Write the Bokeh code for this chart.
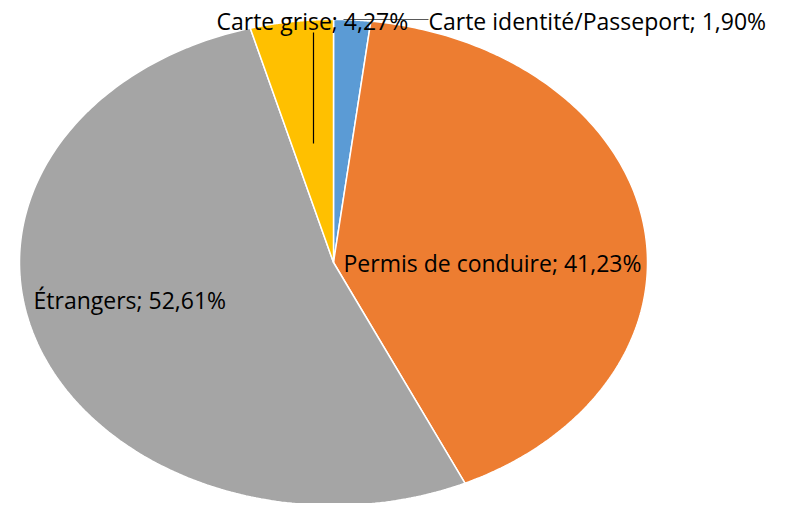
import numpy as np
from bokeh.plotting import figure
from bokeh.models import Range1d, ColumnDataSource
from bokeh.core.properties import value
from bokeh.embed import file_html
from bokeh.resources import INLINE

categories = ["Carte identité/Passeport", "Permis de conduire", "Étrangers", "Carte grise"]
percents = [1.90, 41.23, 52.61, 4.27]
colors = ["#5B9BD5", "#ED7D31", "#A5A5A5", "#FFC000"]

W, H = 779, 503
p = figure(width=W, height=H, output_backend="svg", toolbar_location=None,
           x_range=Range1d(0, W), y_range=Range1d(H, 0),
           min_border=0, outline_line_color=None)
p.axis.visible = False
p.grid.visible = False

cx, cy, rx, ry = 333, 262, 314, 243
fr = np.array(percents) / sum(percents)
ends = np.cumsum(fr)
starts = ends - fr
xs, ys = [], []
for s, e in zip(starts, ends):
    t = np.linspace(s, e, 200) * 2 * np.pi
    xs.append(np.concatenate([[cx], cx + rx * np.sin(t), [cx]]))
    ys.append(np.concatenate([[cy], cy - ry * np.cos(t), [cy]]))
p.patches(xs, ys, fill_color=colors, line_color="white", line_width=1.5)

# leader lines
p.line([343, 428], [19, 19], line_color="#595959", line_width=1)
p.line([313, 313], [32, 143], line_color="black", line_width=1.2)

labels = [f"{c}; {v:.2f}%".replace(".", ",") for c, v in zip(categories, percents)]
lx = [428, 343, 33, 216]
ly = [20, 262, 299, 20]
src = ColumnDataSource(dict(x=lx, y=ly, t=labels))
p.text(x="x", y="y", text="t", source=src, text_font=value("Open Sans"),
       text_font_size="23px", text_baseline="middle", text_align="left",
       text_color="black")

open("out.html", "w").write(file_html(p, INLINE))
